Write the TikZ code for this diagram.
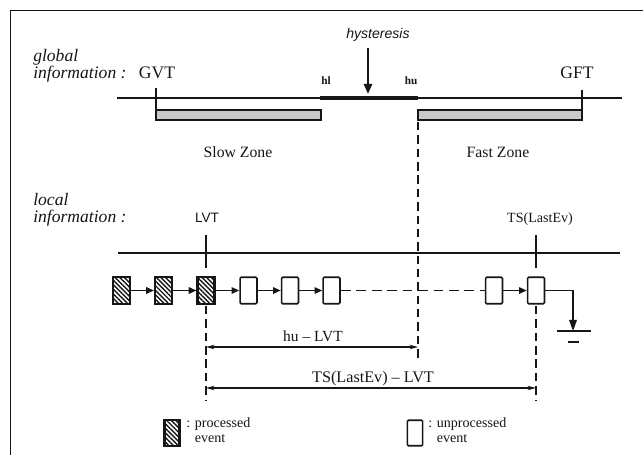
\documentclass[tikz,border=0pt]{standalone}
\usepackage{fontspec}
\setmainfont{Liberation Serif}
\setsansfont{Liberation Sans}
\usetikzlibrary{arrows.meta,patterns.meta}
\definecolor{ink}{HTML}{161616}
\definecolor{zonefill}{HTML}{C9C9C9}
\newcommand{\fsz}[2]{\fontsize{#1}{#2}\selectfont}
\tikzset{
 every node/.append style={text=ink,inner sep=0pt},
 side/.style={font=\fsz{12.5}{11.6}\itshape,align=left,anchor=base west},
 big/.style={font=\fsz{12.5}{14},anchor=base},
 zonetext/.style={font=\fsz{11.2}{13},anchor=base},
 bound/.style={font=\fsz{8}{9}\bfseries,anchor=base},
 timetext/.style={font=\fsz{10}{12},anchor=base},
 dimtext/.style={font=\fsz{11}{13},anchor=base},
 keytext/.style={font=\fsz{10}{10.2},align=left,anchor=base west},
 frame/.style={draw=ink,line width=1.3pt},
 axis/.style={draw=ink,line width=1.1pt},
 tick/.style={draw=ink,line width=1.1pt},
 zone/.style={draw=ink,fill=zonefill,line width=.9pt},
 hyst/.style={draw=ink,line width=2.4pt},
 ev/.style={draw=ink,fill=white,minimum width=.42cm,minimum height=.66cm},
 done/.style={ev,line width=1.6pt,pattern={Lines[angle=-45,distance=2.3pt,line width=1pt]},pattern color=ink},
 todo/.style={ev,line width=1.2pt,rounded corners=.8pt},
 flow/.style={-{Triangle[length=5.5pt,width=4.6pt]},draw=ink,line width=1.1pt},
 guide/.style={draw=ink,line width=1.1pt,dash pattern=on 6pt off 3.5pt},
 dim/.style={{Stealth[length=6pt,width=3.2pt]}-{Stealth[length=6pt,width=3.2pt]},draw=ink,line width=.9pt},
}
\begin{document}
\begin{tikzpicture}[x=0.025cm,y=-0.025cm]

\useasboundingbox (0,0) rectangle (643,455);
\draw[frame] (643,10.5) -- (10.5,10.5) -- (10.5,455);

% global information
\node[side] (gtxt) at (33,78) {global\\information :};
\node[font=\fsz{10}{12}\sffamily\itshape,anchor=base] (hys) at (378,38) {hysteresis};
\node[big] (gvt) at (157,78) {GVT};
\node[big] (gft) at (577,78) {GFT};
\node[bound] (hltxt) at (326,84) {hl};
\node[bound] (hutxt) at (411,84) {hu};
\coordinate (gl) at (117,98); \coordinate (gr) at (622,98);
\coordinate (hl) at (320,98); \coordinate (hu) at (418,98);
\coordinate (hystop) at (368,48);
\draw[axis] (gl) -- (gr);
\draw[hyst] (hl) -- (hu);
\draw[flow,-{Triangle[length=7pt,width=6pt]}] (hystop) -- ([yshift=3pt]hystop |- hu);
\draw[zone] (156,110) rectangle (321,120);
\draw[zone] (418,110) rectangle (582,120);
\draw[tick] (156,88) -- (156,110);
\draw[tick] (582,90) -- (582,110);
\node[zonetext] (slow) at (238,157) {Slow Zone};
\node[zonetext] (fast) at (498,157) {Fast Zone};
\draw[guide] (418,122) -- (418,358);

% local information
\node[side] (ltxt) at (33,222) {local\\information :};
\node[font=\fsz{9.7}{12}\sffamily,anchor=base] (lvt) at (207,222) {LVT};
\node[timetext] (tsl) at (540,222) {TS(LastEv)};
\coordinate (ll) at (118,253); \coordinate (lr) at (620,253);
\draw[axis] (ll) -- (lr);
\draw[tick] (206,235) -- (206,268);
\draw[tick] (536,235) -- (536,268);

% event list
\node[done] (e1) at (121.5,290.5) {};
\node[done] (e2) at (163.5,290.5) {};
\node[done] (e3) at (206,290.5) {};
\node[todo] (e4) at (248.5,290.5) {};
\node[todo] (e5) at (290,290.5) {};
\node[todo] (e6) at (331.5,290.5) {};
\node[todo] (e7) at (494,290.5) {};
\node[todo] (e8) at (536,290.5) {};
\draw[flow] (e1) -- (e2); \draw[flow] (e2) -- (e3); \draw[flow] (e3) -- (e4);
\draw[flow] (e4) -- (e5); \draw[flow] (e5) -- (e6);
\draw[guide,dash pattern=on 7pt off 4pt] (e6) -- (e7);
\draw[flow] (e7) -- (e8);
\coordinate (gnd) at (573,331);
\draw[flow,-{Triangle[length=8pt,width=5.5pt]}] (e8.east) -| (gnd);
\draw[axis] (557,331) -- (591,331);
\draw[axis] (568,342) -- (579,342);

% distances
\draw[guide] (206,306) -- (206,400);
\draw[guide] (536,306) -- (536,400);
\coordinate (d1a) at (206,347); \coordinate (d1b) at (418,347);
\coordinate (d2a) at (206,388); \coordinate (d2b) at (536,388);
\draw[dim] (d1a) -- (d1b);
\draw[dim] (d2a) -- (d2b);
\node[dimtext] (d1txt) at (313,341) {hu -- LVT};
\node[dimtext,font=\fsz{11.5}{13}] (d2txt) at (373,382) {TS(LastEv) -- LVT};

% legend
\node[done,minimum height=.64cm,minimum width=.38cm] (kdone) at (172,433) {};
\node[keytext] (kdonetxt) at (186,442) {: processed\\\phantom{: }event};
\node[todo,minimum height=.64cm,minimum width=.38cm] (ktodo) at (415,433) {};
\node[keytext] (ktodotxt) at (428,442) {: unprocessed\\\phantom{: }event};

\end{tikzpicture}
\end{document}
